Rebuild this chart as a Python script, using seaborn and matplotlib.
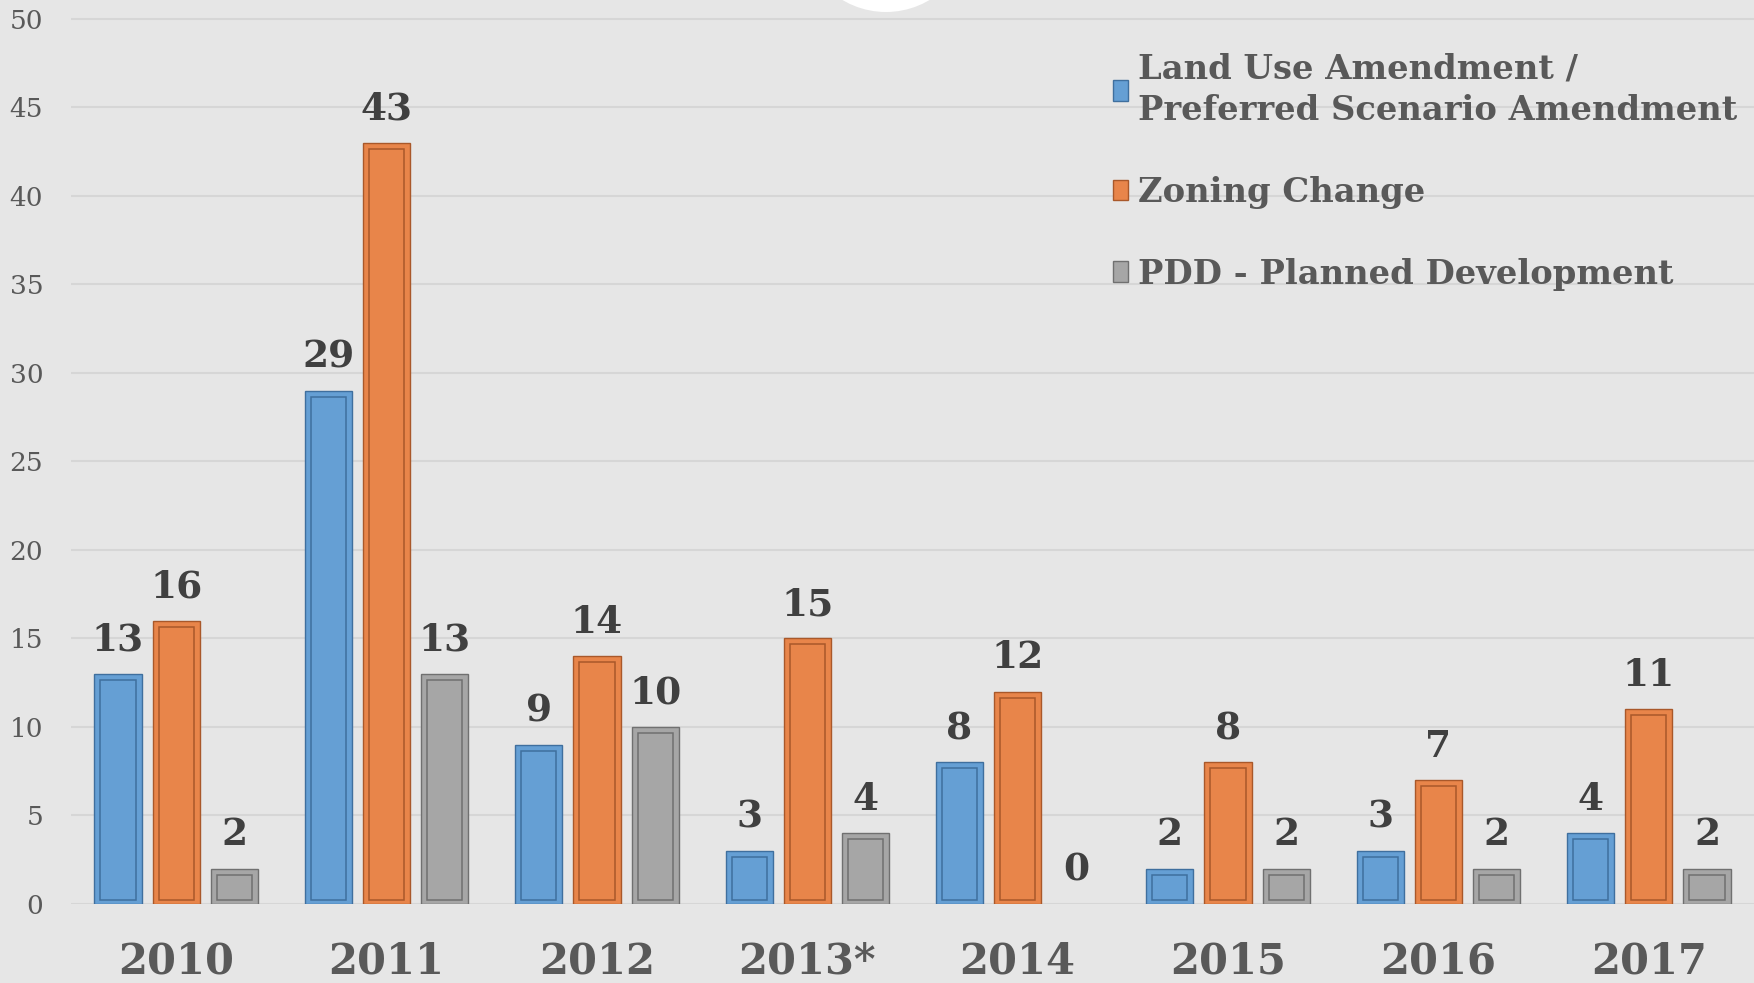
import matplotlib
matplotlib.use('Agg')
import matplotlib.pyplot as plt
import seaborn as sns
import pandas as pd
from matplotlib.patches import Patch, Rectangle, Circle

years = ["2010", "2011", "2012", "2013*", "2014", "2015", "2016", "2017"]
series = ["Land Use Amendment /\nPreferred Scenario Amendment", "Zoning Change", "PDD - Planned Development"]
land_use = [13, 29, 9, 3, 8, 2, 3, 4]
zoning = [16, 43, 14, 15, 12, 8, 7, 11]
pdd = [2, 13, 10, 4, 0, 2, 2, 2]
yticks = [0, 5, 10, 15, 20, 25, 30, 35, 40, 45, 50]

colors = ["#659fd4", "#e8854a", "#a6a6a6"]
edge_colors = ["#3f6f9e", "#a9582a", "#707070"]
BG = "#e6e6e6"

sns.set_theme(style="whitegrid")
plt.rcParams['font.family'] = ['DejaVu Serif', 'DejaVu Sans']

df = pd.DataFrame({
    "Year": years * 3,
    "Series": [s for s in series for _ in years],
    "Count": land_use + zoning + pdd,
})

W, H = 1754, 983
fig = plt.figure(figsize=(W / 100, H / 100), dpi=100)
fig.patch.set_facecolor(BG)
ax = fig.add_axes([71 / W, 79 / H, 1683 / W, 904 / H])
ax.set_facecolor(BG)

sns.barplot(data=df, x="Year", y="Count", hue="Series", hue_order=series, order=years,
            palette=colors, width=0.83, gap=0.19, saturation=1, legend=False, ax=ax,
            linewidth=1.2, edgecolor="none", zorder=3)

ax.set_xlim(-0.5, 7.5)
ax.set_ylim(0, 51.07)

# bar edges and inner outline
px_x = 1683 / 8.0
px_y = 904 / 51.07
for i, cont in enumerate(ax.containers):
    for p in cont.patches:
        h = p.get_height()
        if h <= 0:
            p.set_linewidth(0)
            p.set_edgecolor("none")
            continue
        p.set_edgecolor(edge_colors[i])
        p.set_linewidth(1.0)
        ix = p.get_x() + 6 / px_x
        iw = p.get_width() - 12 / px_x
        iy = p.get_y() + 4 / px_y
        ih = h - 10 / px_y
        if ih <= 0:
            continue
        ax.add_patch(Rectangle((ix, iy), iw, ih, fill=False, edgecolor=edge_colors[i],
                               linewidth=1.1, zorder=4))
    ax.bar_label(cont, padding=11, fontsize=27, fontweight='bold', color="#404040",
                 family=['DejaVu Serif'])

ax.set_yticks(yticks)
ax.set_yticklabels([str(t) for t in yticks])
ax.tick_params(axis='y', labelsize=19, labelcolor="#595959", length=0, pad=20)
ax.tick_params(axis='x', labelsize=30, labelcolor="#595959", length=0, pad=26)
for lab in ax.get_xticklabels():
    lab.set_fontweight('bold')
ax.set_xlabel("")
ax.set_ylabel("")
ax.grid(axis='y', color="#d6d6d6", linewidth=1.5, zorder=0)
ax.grid(axis='x', visible=False)
for s in ax.spines.values():
    s.set_visible(False)

handles = [Patch(facecolor=colors[i], edgecolor=edge_colors[i], linewidth=1.0) for i in range(3)]
leg = ax.legend(handles, series, loc='upper left', bbox_to_anchor=(1083 / W, 1 - 22 / H),
                bbox_transform=fig.transFigure, frameon=False, handlelength=0.42,
                handleheight=0.55, handletextpad=0.3, labelspacing=1.45,
                prop={'family': ['DejaVu Serif'], 'weight': 'bold', 'size': 24.3})
for t in leg.get_texts():
    t.set_color("#595959")
    t.set_linespacing(1.32)

# decorative white circle at top
fig.patches.append(Circle((8.86, H / 100 + 0.73), 0.85, transform=fig.dpi_scale_trans,
                          facecolor="white", edgecolor="none", zorder=10))

fig.savefig("out.png", dpi=100, facecolor=BG)
